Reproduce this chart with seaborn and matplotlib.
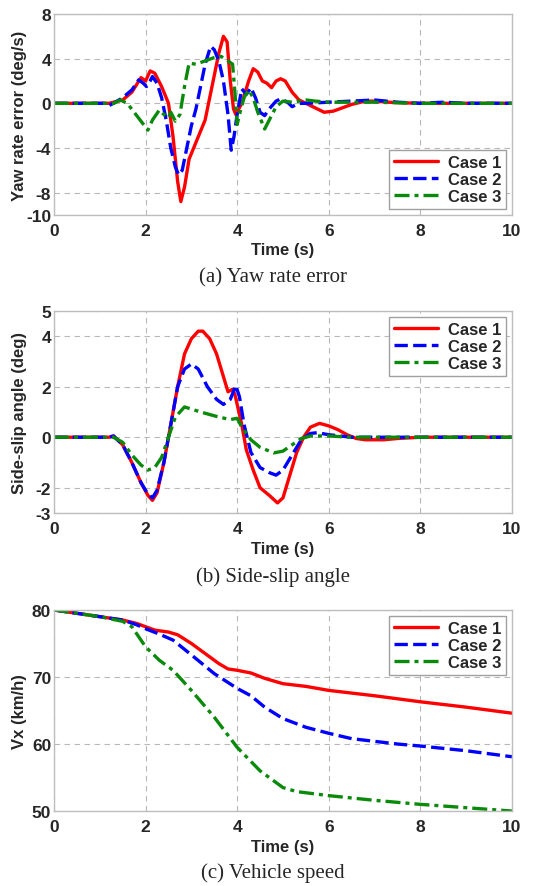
import numpy as np
import matplotlib
matplotlib.use("Agg")
import matplotlib.pyplot as plt
import pandas as pd
import seaborn as sns

sns.set_style("whitegrid")
plt.rcParams.update({
    "font.family": ["Liberation Sans", "DejaVu Sans"],
    "font.weight": "bold", "axes.labelweight": "bold",
    "axes.unicode_minus": False,
    "figure.facecolor": "white", "axes.facecolor": "white",
})

CASES = ["Case 1", "Case 2", "Case 3"]
COLORS = {"Case 1": "#ff0000", "Case 2": "#0000ff", "Case 3": "#0a8a0a"}
STYLES = {"Case 1": "-", "Case 2": (0, (4, 1.6)), "Case 3": (0, (4.5, 1.5, 1.2, 1.5))}

# (a) yaw rate error (deg/s)
yaw_t1 = [0, 1.2, 1.5, 1.7, 1.9, 2.0, 2.1, 2.2, 2.35, 2.5, 2.6, 2.7, 2.77, 2.85, 2.95, 3.1, 3.3,
          3.4, 3.5, 3.6, 3.7, 3.78, 3.85, 3.92, 3.97, 4.1, 4.25, 4.35, 4.45, 4.55, 4.65, 4.75,
          4.85, 4.95, 5.05, 5.2, 5.35, 5.5, 5.7, 5.9, 6.1, 6.3, 6.5, 6.8, 7.0, 7.3, 7.6, 8, 10]
yaw_v1 = [0, 0, 0.3, 1.0, 2.3, 2.0, 2.9, 2.7, 1.5, 0.0, -3.0, -7.0, -8.8, -7.5, -5.0, -3.5, -1.5,
          0.5, 2.5, 4.5, 6.0, 5.5, 2.0, -0.5, -1.0, 0.0, 2.0, 3.1, 2.8, 2.0, 1.8, 1.4,
          2.0, 2.2, 2.0, 1.0, 0.3, 0.0, -0.4, -0.8, -0.7, -0.4, -0.1, 0.2, 0.2, 0.1, 0.05, 0, 0]
yaw_t2 = [0, 1.1, 1.2, 1.3, 1.5, 1.7, 1.85, 1.95, 2.02, 2.1, 2.15, 2.25, 2.35, 2.45, 2.55, 2.65,
          2.72, 2.8, 2.9, 3.0, 3.1, 3.2, 3.3, 3.42, 3.5, 3.6, 3.7, 3.8, 3.87, 3.93, 4.0, 4.1,
          4.2, 4.3, 4.4, 4.5, 4.6, 4.7, 4.85, 4.95, 5.1, 5.2, 5.35, 5.5, 6.0, 6.5, 7.0, 7.5,
          8.0, 8.5, 9.0, 10]
yaw_v2 = [0, 0, -0.2, 0, 0.5, 1.2, 2.1, 1.8, 1.5, 2.0, 2.4, 1.8, 0.5, -1.5, -4.0, -5.7,
          -6.4, -6.0, -4.0, -2.0, -0.5, 1.5, 3.5, 5.1, 4.8, 3.8, 2.0, -1.0, -4.2, -3.0, -1.0, 1.3,
          0.8, 1.4, 0.5, -0.8, -1.1, -0.5, 0.2, 0.4, 0.1, -0.3, 0.0, 0.0, 0.1, 0.2, 0.3, 0.1,
          0, 0.1, 0, 0]
yaw_t3 = [0, 1.3, 1.45, 1.6, 1.75, 1.9, 2.05, 2.15, 2.3, 2.4, 2.5, 2.55, 2.65, 2.75, 2.85, 2.95,
          3.1, 3.3, 3.5, 3.65, 3.8, 3.9, 3.95, 4.0, 4.05, 4.15, 4.25, 4.35, 4.45, 4.6, 4.7,
          4.85, 5.0, 5.2, 5.5, 5.7, 6.0, 6.5, 7.0, 7.5, 8.0, 10]
yaw_v3 = [0, 0, 0.3, 0.0, -0.8, -1.6, -2.4, -1.5, -0.6, -1.0, -1.3, -0.8, -1.6, -1.0, 1.5, 3.6,
          3.5, 3.8, 4.1, 4.2, 3.8, 3.5, 1.0, -1.9, -1.0, 0.5, 1.2, 0.5, -0.8, -2.3, -1.5,
          -0.3, 0.2, 0.1, 0.3, 0.2, 0.1, 0.1, 0.1, 0.05, 0, 0]

# (b) side-slip angle (deg)
slip_t1 = [0, 1.2, 1.3, 1.5, 1.7, 1.9, 2.05, 2.15, 2.25, 2.4, 2.55, 2.7, 2.85, 3.0, 3.15, 3.25,
           3.4, 3.55, 3.7, 3.8, 3.9, 3.95, 4.1, 4.2, 4.35, 4.5, 4.7, 4.88, 5.0, 5.15, 5.3, 5.45,
           5.6, 5.8, 6.0, 6.2, 6.4, 6.6, 6.8, 7.2, 7.5, 8.0, 10]
slip_v1 = [0, 0, 0.05, -0.3, -1.0, -1.8, -2.3, -2.5, -2.2, -1.0, 0.5, 2.0, 3.3, 3.9, 4.2, 4.2,
           3.9, 3.3, 2.4, 1.8, 1.9, 1.7, 0.5, -0.5, -1.3, -2.0, -2.3, -2.6, -2.4, -1.5, -0.6, 0.0,
           0.4, 0.55, 0.45, 0.3, 0.1, -0.05, -0.1, -0.1, -0.05, 0, 0]
slip_t2 = [0, 1.2, 1.3, 1.5, 1.7, 1.9, 2.05, 2.15, 2.25, 2.4, 2.55, 2.7, 2.85, 3.0, 3.15, 3.35,
           3.55, 3.7, 3.85, 3.97, 4.05, 4.15, 4.3, 4.5, 4.7, 4.85, 5.0, 5.2, 5.4, 5.6, 5.75,
           6.0, 6.5, 8.0, 10]
slip_v2 = [0, 0, 0.05, -0.3, -1.0, -1.8, -2.25, -2.4, -2.1, -1.0, 0.5, 2.0, 2.7, 2.9, 2.7, 2.0,
           1.5, 1.3, 1.5, 2.05, 1.6, 0.5, -0.6, -1.2, -1.4, -1.5, -1.3, -0.7, -0.1, 0.15, 0.18,
           0.1, 0.0, 0, 0]
slip_t3 = [0, 1.3, 1.5, 1.7, 1.9, 2.05, 2.2, 2.35, 2.5, 2.65, 2.85, 3.2, 3.6, 3.85, 4.0, 4.1,
           4.3, 4.5, 4.8, 5.0, 5.2, 5.4, 5.6, 6.0, 6.5, 8.0, 10]
slip_v3 = [0, 0, -0.2, -0.7, -1.1, -1.3, -1.2, -0.8, 0.0, 0.8, 1.2, 1.0, 0.8, 0.7, 0.75, 0.4,
           -0.1, -0.4, -0.62, -0.55, -0.3, -0.05, 0.05, 0.05, 0, 0, 0]

# (c) vehicle speed (km/h)
vx_t1 = [0, 0.5, 1.0, 1.5, 1.8, 2.0, 2.2, 2.5, 2.7, 3.0, 3.3, 3.6, 3.8, 4.0, 4.3, 4.6, 5.0,
         5.5, 6.0, 7.0, 8.0, 9.0, 10]
vx_v1 = [80, 79.5, 79.0, 78.5, 78.0, 77.5, 77.0, 76.7, 76.3, 75.0, 73.5, 72.0, 71.2, 71.0, 70.6,
         69.8, 69.0, 68.6, 68.0, 67.2, 66.3, 65.5, 64.6]
vx_t2 = [0, 1.0, 1.5, 1.8, 2.0, 2.3, 2.6, 3.0, 3.5, 4.0, 4.3, 4.6, 5.0, 5.5, 6.0, 6.5, 7.0,
         7.5, 8.0, 9.0, 10]
vx_v2 = [80, 79.0, 78.5, 77.8, 77.2, 76.4, 75.5, 73.3, 70.5, 68.3, 67.2, 65.5, 63.8, 62.5, 61.6,
         60.8, 60.4, 60.0, 59.7, 59.0, 58.1]
vx_t3 = [0, 1.0, 1.5, 1.7, 2.0, 2.3, 2.6, 3.0, 3.5, 4.0, 4.5, 5.0, 5.3, 6.0, 7.0, 8.0, 9.0, 10]
vx_v3 = [80, 79.0, 78.3, 77.5, 74.5, 72.5, 71.0, 68.0, 64.0, 59.5, 56.0, 53.5, 52.9, 52.3, 51.6,
         51.0, 50.5, 50.0]

PANELS = [
    dict(t=[yaw_t1, yaw_t2, yaw_t3], v=[yaw_v1, yaw_v2, yaw_v3], ylim=(-10, 8),
         yticks=[-10, -8, -4, 0, 4, 8], ylabel="Yaw rate error (deg/s)",
         caption="(a) Yaw rate error", legend_loc="lower right"),
    dict(t=[slip_t1, slip_t2, slip_t3], v=[slip_v1, slip_v2, slip_v3], ylim=(-3, 5),
         yticks=[-3, -2, 0, 2, 4, 5], ylabel="Side-slip angle (deg)",
         caption="(b) Side-slip angle", legend_loc="upper right"),
    dict(t=[vx_t1, vx_t2, vx_t3], v=[vx_v1, vx_v2, vx_v3], ylim=(50, 80),
         yticks=[50, 60, 70, 80], ylabel="Vx (km/h)",
         caption="(c) Vehicle speed", legend_loc="upper right"),
]

fig = plt.figure(figsize=(5.4, 8.87), dpi=100)
boxes = [(0.1, 0.7565, 0.848, 0.2266), (0.1, 0.4205, 0.848, 0.2278), (0.1, 0.0845, 0.848, 0.2267)]
caption_y = [1 - 278 / 887, 1 - 577 / 887, 1 - 873 / 887]

for p, box, cy in zip(PANELS, boxes, caption_y):
    ax = fig.add_axes(box)
    for case, t, v in zip(CASES, p["t"], p["v"]):
        df = pd.DataFrame({"t": t, "v": v})
        sns.lineplot(data=df, x="t", y="v", ax=ax, color=COLORS[case], linestyle=STYLES[case],
                     linewidth=2.4, label=case, estimator=None, sort=False)
    ax.set_xlim(0, 10)
    ax.set_ylim(*p["ylim"])
    ax.set_xticks([0, 2, 4, 6, 8, 10])
    ax.set_yticks(p["yticks"])
    ax.tick_params(axis="both", labelsize=12.5, length=0)
    ax.tick_params(axis="x", pad=6)
    ax.tick_params(axis="y", pad=2)
    for lab in ax.get_xticklabels() + ax.get_yticklabels():
        lab.set_fontweight("bold")
    ax.set_xlabel("Time (s)", fontsize=12, fontweight="bold", labelpad=3)
    ax.set_ylabel(p["ylabel"], fontsize=12, fontweight="bold")
    ax.yaxis.set_label_coords(-0.058, 0.5)
    ax.grid(True, linestyle=(0, (5, 4)), color="#b8b8b8", linewidth=0.8)
    for s in ax.spines.values():
        s.set_color("#bdbdbd")
        s.set_linewidth(1.0)
    leg = ax.legend(loc=p["legend_loc"], fancybox=False, framealpha=1, edgecolor="#a0a0a0",
                    prop={"size": 12, "weight": "bold"}, handlelength=2.6, handletextpad=0.6,
                    borderpad=0.3, labelspacing=0.12, borderaxespad=0.35)
    leg.get_frame().set_linewidth(1.0)
    fig.text(0.505, cy, p["caption"], ha="center", va="center", fontsize=15,
             family=["Liberation Serif", "DejaVu Serif"], fontweight="normal")

fig.savefig("out.png", dpi=100)
